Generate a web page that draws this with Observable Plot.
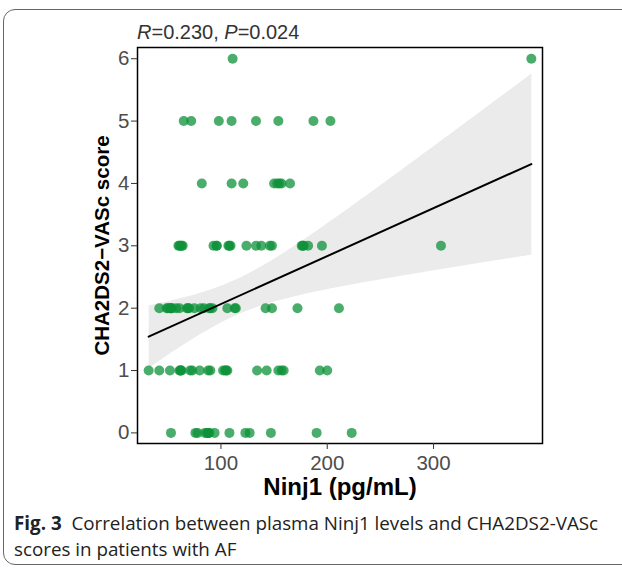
<!DOCTYPE html>
<html>
<head>
<meta charset="utf-8">
<script src="https://cdn.jsdelivr.net/npm/d3@7"></script>
<script src="https://cdn.jsdelivr.net/npm/@observablehq/plot@0.6"></script>
<style>
  html, body { margin: 0; padding: 0; background: #fff; }
  #wrap { position: relative; width: 622px; height: 569px; overflow: hidden; }
  #box { position: absolute; left: 3px; top: 9px; width: 700px; height: 554px; border: 1.5px solid #666; border-radius: 12px; }
  #chart { position: absolute; left: 0; top: 0; }
  #stat { position: absolute; left: 137px; top: 21px; font: 20px "Liberation Sans", Arial, sans-serif; line-height: 23px; color: #333; white-space: nowrap; }
  #caption { position: absolute; left: 14px; top: 510px; font: 18.8px "Open Sans", sans-serif; line-height: 26px; color: #222; width: 600px; }
</style>
</head>
<body>
<div id="wrap">
  <div id="box"></div>
  <div id="chart"></div>
  <div id="stat"><i>R</i>=0.230, <i>P</i>=0.024</div>
  <div id="caption"><b>Fig. 3</b>&nbsp; Correlation between plasma Ninj1 levels and CHA2DS2-VASc<br>scores in patients with AF</div>
</div>
<script>
// Ninj1 (pg/mL) values for each CHA2DS2-VASc score
const score0 = [53, 76, 78, 85, 87, 88, 88, 89, 94, 108, 123, 127, 147, 190, 223];
const score1 = [32, 42, 52, 61, 62, 62, 63, 71, 73, 80, 88, 90, 102, 104, 105, 106, 134, 143, 154, 157, 159, 193, 200];
const score2 = [42, 49, 50, 52, 53, 53, 54, 58, 61, 68, 69, 70, 75, 81, 84, 89, 90, 92, 106, 113, 114, 142, 148, 172, 211];
const score3 = [60, 61, 62, 63, 64, 93, 96, 96, 107, 108, 109, 124, 133, 138, 146, 148, 176, 177, 178, 182, 195, 307];
const score4 = [82, 110, 121, 150, 153, 155, 157, 165];
const score5 = [65, 72, 98, 110, 133, 154, 187, 203];
const score6 = [111, 392];
const scoreGroups = [score0, score1, score2, score3, score4, score5, score6];
const xTicks = [100, 200, 300];
const yTicks = [0, 1, 2, 3, 4, 5, 6];

const data = scoreGroups.flatMap((xs, s) => xs.map(x => ({ninj1: x, score: s})));

const chart = Plot.plot({
  width: 622,
  height: 510,
  marginLeft: 137,
  marginRight: 80,
  marginTop: 47,
  marginBottom: 67,
  style: { fontFamily: "Liberation Sans, Arial, sans-serif", fontSize: "20.5px", background: "transparent", color: "#000" },
  x: { domain: [21.5, 402.5] },
  y: { domain: [-0.17, 6.18] },
  marks: [
    Plot.linearRegressionY(data, { x: "ninj1", y: "score", ci: 0.95, fill: "#ebebeb", fillOpacity: 1, stroke: "none" }),
    Plot.dot(data, { x: "ninj1", y: "score", r: 5, fill: "#0e9139", fillOpacity: 0.75, stroke: "none" }),
    Plot.linearRegressionY(data, { x: "ninj1", y: "score", ci: 0, stroke: "#000", strokeWidth: 2 }),
    Plot.frame({ stroke: "#000", strokeWidth: 1.5 }),
    Plot.axisX({ ticks: xTicks, tickFormat: d => String(d), tickSize: 6, tickPadding: 6, color: "#4d4d4d", stroke: "#333", strokeOpacity: 1, label: null }),
    Plot.axisY({ ticks: yTicks, tickFormat: d => String(d), tickSize: 6, tickPadding: 2, color: "#4d4d4d", stroke: "#333", strokeOpacity: 1, label: null }),
    Plot.text(["Ninj1 (pg/mL)"], { frameAnchor: "bottom", dy: 51, fontSize: 24, fontWeight: "bold", fill: "#000" }),
    Plot.text(["CHA2DS2\u2212VASc score"], { frameAnchor: "left", dx: -35, rotate: -90, textAnchor: "middle", fontSize: 20.5, fontWeight: "bold", fill: "#000" })
  ]
});
document.getElementById("chart").appendChild(chart);
</script>
</body>
</html>
